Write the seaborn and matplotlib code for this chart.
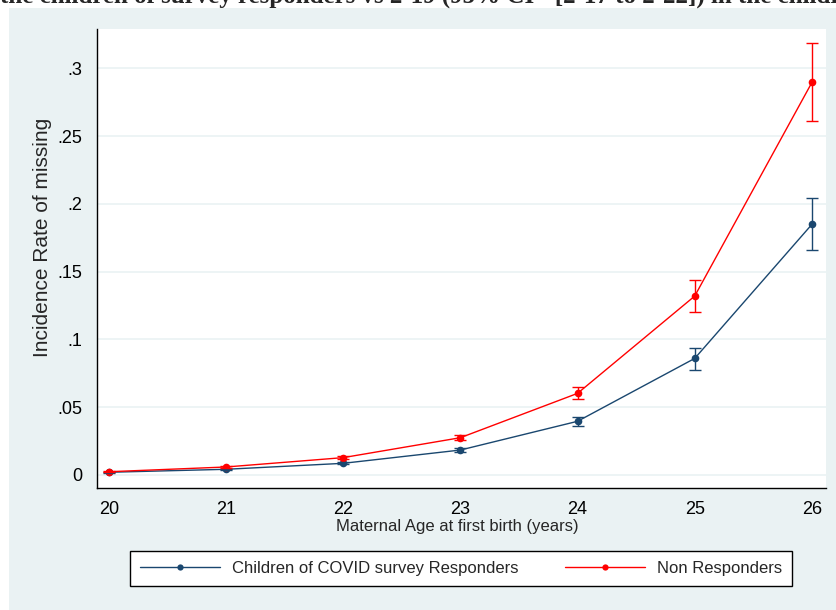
import matplotlib
matplotlib.use('Agg')
import matplotlib.pyplot as plt
from matplotlib.patches import Rectangle
import seaborn as sns
import pandas as pd

# data
age = [20, 21, 22, 23, 24, 25, 26]
resp_rate = [0.0020, 0.0042, 0.0086, 0.0184, 0.0396, 0.0860, 0.1849]
resp_lo = [0.0017, 0.0037, 0.0078, 0.0170, 0.0364, 0.0774, 0.1657]
resp_hi = [0.0023, 0.0047, 0.0094, 0.0198, 0.0430, 0.0937, 0.2040]
non_rate = [0.0024, 0.0059, 0.0128, 0.0275, 0.0602, 0.1320, 0.2896]
non_lo = [0.0020, 0.0052, 0.0117, 0.0256, 0.0558, 0.1200, 0.2610]
non_hi = [0.0028, 0.0066, 0.0139, 0.0293, 0.0647, 0.1435, 0.3188]
groups = ['Children of COVID survey Responders', 'Non Responders']
colors = ['#1A476F', '#FF0000']
y_ticks = [0, 0.05, 0.1, 0.15, 0.2, 0.25, 0.3]
y_labels = ['0', '.05', '.1', '.15', '.2', '.25', '.3']
top_text = 'the children of survey responders vs 2\u00b719 (95% CI= [2\u00b717 to 2\u00b722]) in the children'

df = pd.concat([
    pd.DataFrame({'age': age, 'rate': resp_rate, 'lo': resp_lo, 'hi': resp_hi, 'group': groups[0]}),
    pd.DataFrame({'age': age, 'rate': non_rate, 'lo': non_lo, 'hi': non_hi, 'group': groups[1]}),
])

sns.set_style('white')
plt.rcParams['font.family'] = ['Liberation Sans', 'DejaVu Sans']

fig = plt.figure(figsize=(8.37, 6.10), dpi=100)
fig.patch.set_facecolor('white')
fig.patches.append(Rectangle((9 / 837, 0), 1, 602 / 610, transform=fig.transFigure,
                             facecolor='#EAF2F3', edgecolor='none', zorder=-10))
# title line above is cut off in the source image, only its bottom shows
fig.text(0, 1 - 2.5 / 610, top_text, family='Liberation Serif', weight='bold',
         fontsize=18, va='baseline', ha='left')

ax = fig.add_axes([97 / 837, 122 / 610, 729 / 837, 459 / 610])
ax.set_facecolor('white')

sns.lineplot(data=df, x='age', y='rate', hue='group', palette=colors, marker='o',
             markersize=5.5, markeredgewidth=0, linewidth=1.0, ax=ax, legend=False,
             errorbar=None)
for g, c in zip(groups, colors):
    d = df[df.group == g]
    ax.errorbar(d.age, d.rate, yerr=[d.rate - d.lo, d.hi - d.rate], fmt='none',
                ecolor=c, elinewidth=1.0, capsize=4.5, capthick=1.0)

ax.set_xlim(19.9, 26.12)
ax.set_ylim(-0.0096, 0.329)
ax.set_xticks(age)
ax.set_yticks(y_ticks)
ax.set_yticklabels(y_labels)
ax.yaxis.grid(True, color='#EAF2F3', linewidth=1.2)
ax.set_axisbelow(True)
for s in ['top', 'right']:
    ax.spines[s].set_visible(False)
for s in ['left', 'bottom']:
    ax.spines[s].set_color('black')
    ax.spines[s].set_linewidth(1.0)
ax.tick_params(axis='both', direction='out', length=7.5, width=0.8, color='black',
               labelsize=13, labelcolor='black', pad=3)
ax.tick_params(axis='x', pad=2)

ax.set_xlabel('Maternal Age at first birth (years)', fontsize=12)
ax.set_ylabel('Incidence Rate of missing', fontsize=15)
ax.xaxis.set_label_coords((457 - 97) / 729, (488 - 527) / 459)
ax.xaxis.label.set_va('center')
ax.yaxis.set_label_coords((43 - 97) / 729, (488 - 237) / 459)
ax.yaxis.label.set_va('center')

handles = [plt.Line2D([], [], color=c, marker='o', markersize=4.5, markeredgewidth=0, linewidth=1.0)
           for c in colors]
leg = fig.legend(handles, groups, loc='center', bbox_to_anchor=(461 / 837, 1 - 568 / 610),
                 ncol=2, fontsize=12, frameon=True, fancybox=False, handlelength=4.8,
                 handletextpad=0.7, columnspacing=2.8, borderpad=0.6)
leg.get_frame().set_edgecolor('black')
leg.get_frame().set_linewidth(1.0)
leg.get_frame().set_facecolor('white')
leg.get_frame().set_alpha(1)

fig.savefig('out.png', dpi=100, facecolor=fig.get_facecolor())
